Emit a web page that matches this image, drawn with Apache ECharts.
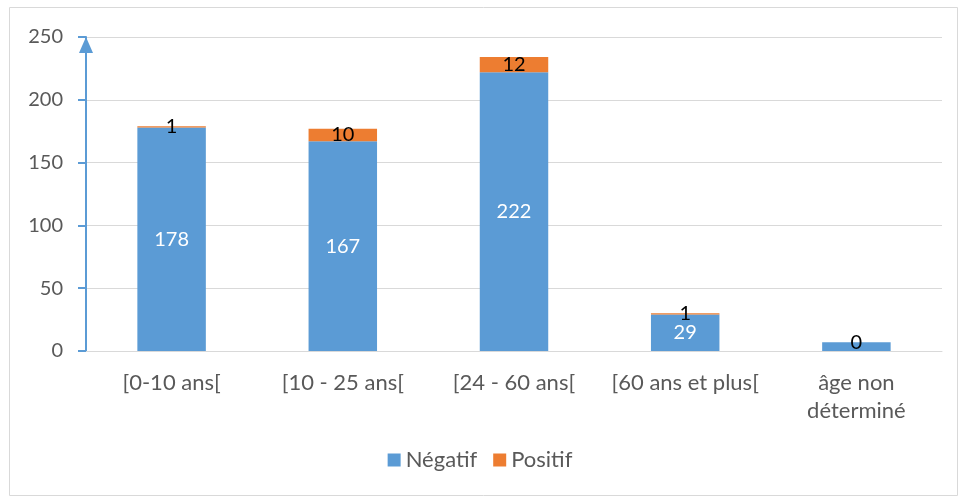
<!DOCTYPE html>
<html>
<head>
<meta charset="utf-8">
<script src="https://cdn.jsdelivr.net/npm/echarts@6/dist/echarts.min.js"></script>
<style>
html, body { margin: 0; padding: 0; background: #fff; }
#main { width: 960px; height: 497px; }
</style>
</head>
<body>
<div id="main"></div>
<script>
var categories = ['[0-10 ans[', '[10 - 25 ans[', '[24 - 60 ans[', '[60 ans et plus[', 'âge non\ndéterminé'];
var negatif = [178, 167, 222, 29, 7];
var positif = [1, 10, 12, 1, 0];
var yTicks = [0, 50, 100, 150, 200, 250];

var chart = echarts.init(document.getElementById('main'));

// la dernière barre n'affiche pas son étiquette négative
var negData = negatif.map(function (v, i) {
    if (i === negatif.length - 1) {
        return { value: v, label: { show: false } };
    }
    return v;
});

var option = {
    animation: false,
    textStyle: { fontFamily: 'Lato' },
    graphic: [{
        type: 'rect',
        shape: { x: 9.5, y: 7.5, width: 948, height: 488 },
        style: { fill: 'none', stroke: '#d9d9d9', lineWidth: 1 },
        silent: true
    }],
    grid: { left: 86, right: 18, top: 37, bottom: 146 },
    legend: {
        bottom: 21,
        left: 'center',
        itemWidth: 13,
        itemHeight: 13,
        itemGap: 16,
        icon: 'rect',
        textStyle: { color: '#595959', fontSize: 22, fontFamily: 'Lato' },
        data: ['Négatif', 'Positif']
    },
    xAxis: {
        type: 'category',
        data: categories,
        axisLine: { lineStyle: { color: '#d9d9d9', width: 1 } },
        axisTick: { show: false },
        axisLabel: { color: '#595959', fontSize: 22, margin: 18, lineHeight: 28, interval: 0 }
    },
    yAxis: {
        type: 'value',
        min: yTicks[0],
        max: yTicks[yTicks.length - 1],
        interval: 50,
        axisLine: {
            show: true,
            symbol: ['none', 'triangle'],
            symbolSize: [14, 16],
            symbolOffset: [0, -8],
            lineStyle: { color: '#5b9bd5', width: 2 }
        },
        axisTick: { show: true, length: 8, lineStyle: { color: '#5b9bd5', width: 2 } },
        axisLabel: { color: '#595959', fontSize: 20, margin: 23 },
        splitLine: { lineStyle: { color: '#d9d9d9', width: 1 } }
    },
    series: [
        {
            name: 'Négatif',
            type: 'bar',
            stack: 'total',
            barWidth: '40%',
            data: negData,
            itemStyle: { color: '#5b9bd5' },
            label: { show: true, position: 'inside', color: '#fff', fontSize: 20 }
        },
        {
            name: 'Positif',
            type: 'bar',
            stack: 'total',
            barWidth: '40%',
            data: positif,
            itemStyle: { color: '#ed7d31' },
            label: { show: true, position: 'inside', color: '#000', fontSize: 20 }
        }
    ]
};
chart.setOption(option);
</script>
</body>
</html>
